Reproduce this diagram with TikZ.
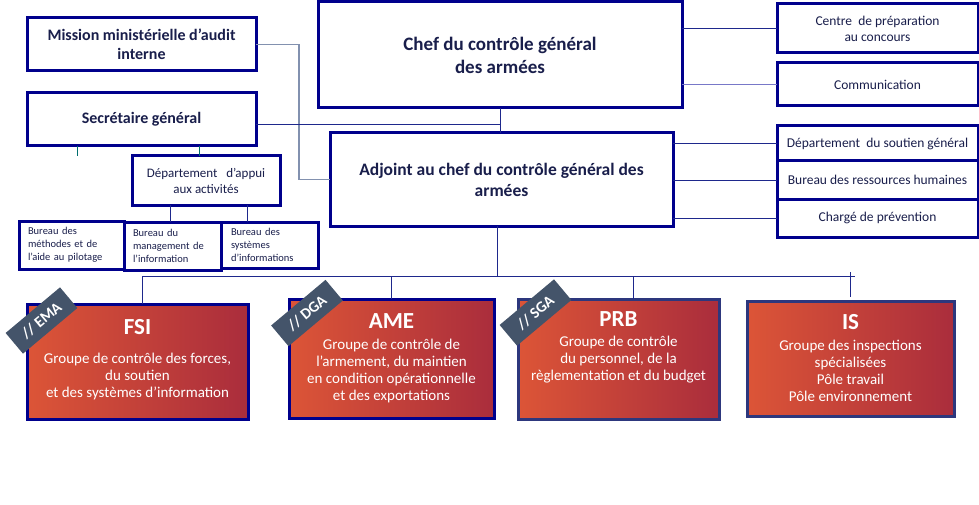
\documentclass[tikz,border=0pt]{standalone}
\usepackage{fontspec}
\setmainfont{Carlito}
\usetikzlibrary{positioning}
\definecolor{navyline}{RGB}{0,0,140}
\definecolor{mutednavy}{RGB}{45,55,125}
\definecolor{boxtext}{RGB}{25,30,75}
\definecolor{linknavy}{RGB}{30,40,140}
\definecolor{greylink}{RGB}{130,145,175}
\definecolor{lavender}{RGB}{120,120,200}
\definecolor{tealtick}{RGB}{0,110,110}
\definecolor{groupleft}{RGB}{220,85,55}
\definecolor{groupright}{RGB}{170,45,60}
\definecolor{tagslate}{RGB}{68,84,106}

\begin{document}
\begin{tikzpicture} [x = 1pt, y = -1pt,
    box/.style = {draw = navyline, line width = 3pt, fill = white, text = boxtext,
      align = center, inner sep = 2pt, outer sep = 0pt},
    bigbox/.style = {box, font = \fontsize{16}{19}\selectfont\bfseries},
    sidebox/.style = {box, minimum width = 201, font = \fontsize{13.5}{16}\selectfont},
    bureau/.style = {box, align = left, font = \fontsize{10.5}{13}\selectfont},
    group/.style = {draw = navyline, line width = 3pt, left color = groupleft,
      right color = groupright, text = white, align = center, outer sep = 0pt,
      font = \fontsize{15}{17}\selectfont},
    tag/.style = {fill = tagslate, text = white, rotate = 40, minimum width = 71,
      minimum height = 27, inner sep = 0pt, font = \fontsize{15.5}{17}\selectfont\bfseries},
    link/.style = {draw = linknavy, line width = 0.9pt}]
    \useasboundingbox (0,0) rectangle (979,505);

    % left column
    \node (mission) [bigbox, minimum width = 229, minimum height = 53] at (141.5,44.5)
      {Mission ministérielle d’audit\\ interne};
    \node (secr) [bigbox, minimum width = 229, minimum height = 53] at (141.5,119.5)
      {Secrétaire général};
    \node (appui) [box, minimum width = 148, minimum height = 49,
      font = \fontsize{13}{16}\selectfont] at (206,180.5)
      {Département \ \ d’appui\\ aux activités};
    \node (bmeth) [bureau, text width = 87, minimum width = 105, minimum height = 48]
      at (71.5,245) {Bureau des\\ méthodes et de\\ l’aide au pilotage};
    \node (bmgmt) [bureau, text width = 79, minimum width = 97, minimum height = 48]
      at (172.5,246) {Bureau du\\ management de\\ l’information};
    \node (bsys) [bureau, text width = 77, minimum width = 97, minimum height = 46]
      at (269.5,245) {Bureau des\\ systèmes\\ d’informations};

    % centre
    \node (chef) [box, minimum width = 364, minimum height = 106,
      font = \fontsize{19}{23}\selectfont\bfseries] at (500,55)
      {Chef du contrôle général\\ des armées};
    \node (adjoint) [box, minimum width = 343, minimum height = 93,
      font = \fontsize{17.5}{21}\selectfont\bfseries] at (501.5,179.5)
      {Adjoint au chef du contrôle général des\\ armées};

    % right column
    \node (centre) [sidebox, minimum height = 49] at (877.5,28.5)
      {Centre \ de préparation\\ au concours};
    \node (comm) [sidebox, minimum height = 43] at (877.5,84.5) {Communication};
    \node (soutien) [sidebox, minimum height = 35] at (877.5,143.5)
      {Département \ du soutien général};
    \node (brh) [sidebox, minimum height = 38] at (877.5,180)
      {Bureau des ressources humaines};
    \node (charge) [sidebox, minimum height = 38] at (877.5,218)
      {Chargé de prévention};

    % groups
    \node (fsi) [group, minimum width = 221, minimum height = 115] at (137.5,361.5)
      {{\fontsize{23}{27}\selectfont\bfseries FSI}\\[12pt]
       Groupe de contrôle des forces,\\ du soutien\\ et des systèmes d’information\\[-11pt]};
    \node (ame) [group, minimum width = 205, minimum height = 119] at (391.5,358.5)
      {{\fontsize{23}{27}\selectfont\bfseries AME}\\[4pt]
       Groupe de contrôle de\\ l’armement, du maintien\\ en condition opérationnelle\\
       et des exportations};
    \node (prb) [group, draw = mutednavy, minimum width = 201, minimum height = 120]
      at (618.5,359)
      {{\fontsize{23}{27}\selectfont\bfseries PRB}\\[3pt]
       Groupe de contrôle\\ du personnel, de la\\ règlementation et du budget\\[9pt]};
    \node (is) [group, draw = mutednavy, minimum width = 207, minimum height = 115]
      at (850.5,358.5)
      {{\fontsize{23}{27}\selectfont\bfseries IS}\\[4pt]
       Groupe des inspections\\ spécialisées\\ Pôle travail\\ Pôle environnement};

    \node (ema) [tag] at (41.5,320.5) {// EMA};
    \node (dga) [tag] at (307,313) {// DGA};
    \node (sga) [tag] at (535.5,312.5) {// SGA};

    % links
    \draw [draw = greylink, line width = 1.2pt] (mission.east) -- ++(43,0) |- (adjoint.west);
    \draw [link] ([yshift = -4.5pt]secr.east) -- ([yshift = -4.5pt]secr.east -| chef.south);
    \draw [link] (chef.south) -- (chef.south |- adjoint.north);
    \draw [draw = tealtick, line width = 0.9pt] ([xshift = -64.5pt]secr.south) -- ++(0,10);
    \draw [draw = tealtick, line width = 0.9pt] ([xshift = 57.5pt]secr.south)
      -- ([xshift = 57.5pt]secr.south |- appui.north);
    \draw [link] ([xshift = -36pt]appui.south) -- ([xshift = -36pt]appui.south |- bmgmt.north);
    \draw [link] ([xshift = 41pt]appui.south) -- ([xshift = 41pt]appui.south |- bsys.north);

    \draw [link] (centre.west -| chef.east) -- (centre.west);
    \draw [draw = lavender, line width = 1pt] (comm.west -| chef.east) -- (comm.west);
    \draw [link] (soutien.west -| adjoint.east) -- (soutien.west);
    \draw [link] (brh.west -| adjoint.east) -- (brh.west);
    \draw [link] (charge.west -| adjoint.east) -- (charge.west);

    \coordinate (busl) at (142,276);
    \coordinate (busr) at (855,276);
    \draw [link] ([xshift = -4.5pt]adjoint.south) -- ([xshift = -4.5pt]adjoint.south |- busl);
    \draw [link] (busl) -- (busr);
    \draw [link] (busl) -- (busl |- fsi.north);
    \draw [link] (ame.north |- busl) -- (ame.north);
    \draw [link] ([xshift = 14.5pt]prb.north |- busl) -- ([xshift = 14.5pt]prb.north);
    \draw [link] ([yshift = 4pt]is.north |- busl) -- ([yshift = 4pt]is.north);
\end{tikzpicture}
\end{document}
